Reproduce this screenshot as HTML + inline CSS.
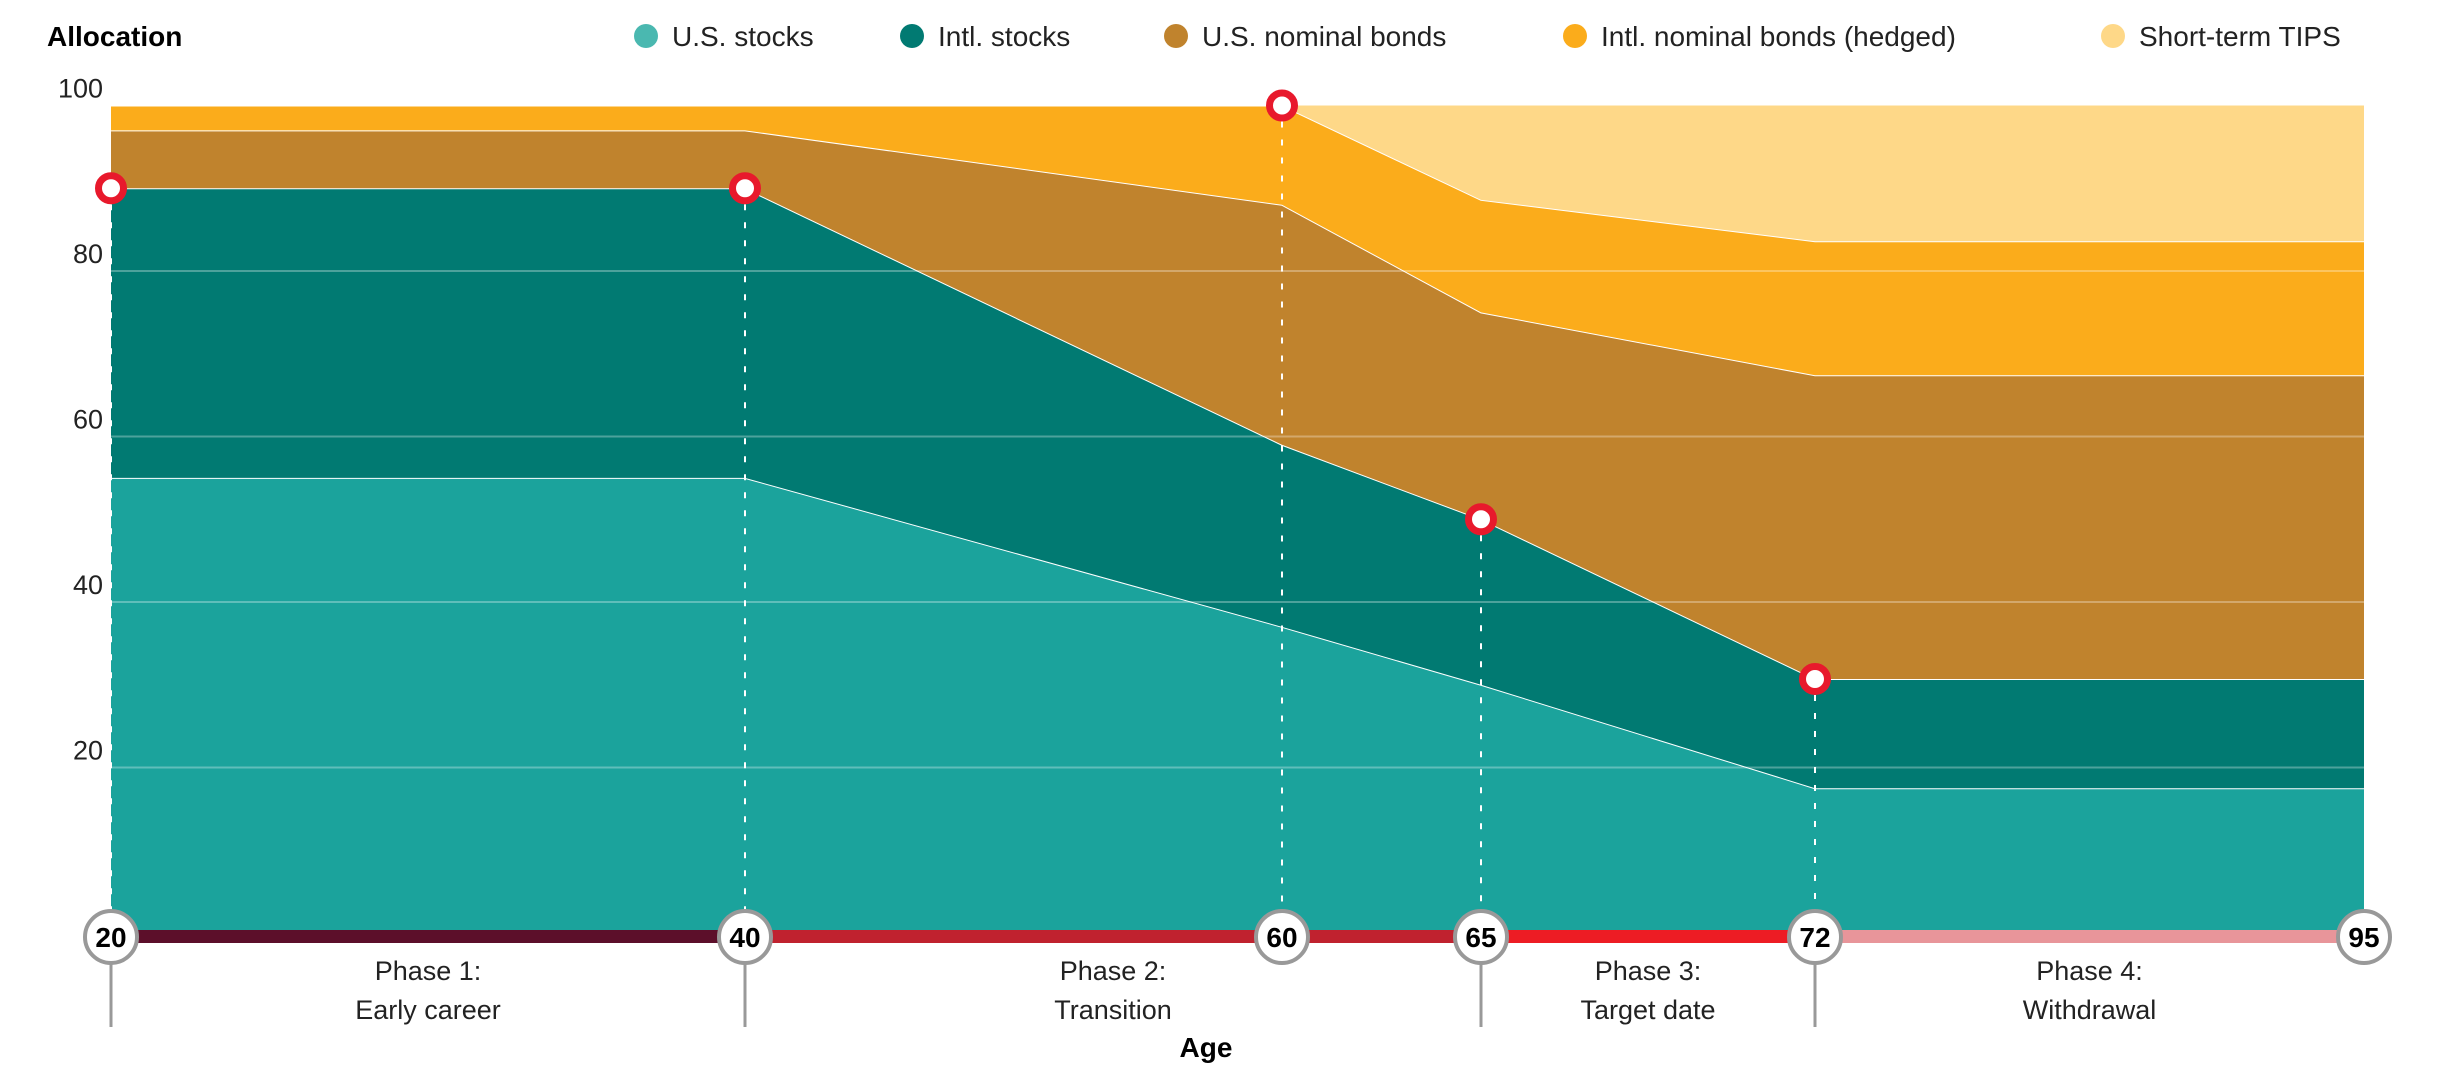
<!DOCTYPE html>
<html><head><meta charset="utf-8"><style>
html,body{margin:0;padding:0;background:#fff;}
svg{display:block;font-family:"Liberation Sans",sans-serif;}
</style></head><body>
<svg id="chart" width="2440" height="1080" viewBox="0 0 2440 1080">
<g id="legend"></g>
<g id="areas"></g>
<g id="grid"></g>
<g id="ylabels"></g>
<g id="drops"></g>
<g id="markers"></g>
<g id="phase"></g>
</svg>
<script>
const ages = [20, 40, 60, 65, 72, 95];
const usStocks   = [55, 55, 37, 30, 17.5, 17.5];
const intlStocks = [35, 35, 22, 20, 13.2, 13.2];
const usBonds    = [7, 7, 29, 25, 36.7, 36.7];
const intlBonds  = [3, 3, 12, 13.6, 16.2, 16.2];
const tips       = [0, 0, 0, 11.4, 16.4, 16.4];
const seriesNames = ["U.S. stocks","Intl. stocks","U.S. nominal bonds","Intl. nominal bonds (hedged)","Short-term TIPS"];
const yTicks = [20, 40, 60, 80, 100];
const markerAges = [20, 40, 60, 65, 72];
const markerValues = [90, 90, 100, 50, 30.7];
const tickAges = [20, 40, 65, 72];
const phaseLabels = [["Phase 1:","Early career"],["Phase 2:","Transition"],["Phase 3:","Target date"],["Phase 4:","Withdrawal"]];
const phaseBounds = [[20,40],[40,65],[65,72],[72,95]];

const colors = ["#1ba39c","#017a72","#c0832d","#fbac1b","#fed888"];
const legendColors = ["#4ab8b0","#017a72","#c0832d","#fbac1b","#fed888"];
const NS="http://www.w3.org/2000/svg";
// piecewise age axis (chart uses uneven spacing)
const axAges=[20,40,60,65,72,95], axPx=[173,745,1282,1481,1815,2364];
function x(a){ if(a<=20) return 111+(a-20)*(173-111)/0.0001*0; for(let i=0;i<axAges.length-1;i++){ if(a<=axAges[i+1]) return axPx[i]+(a-axAges[i])/(axAges[i+1]-axAges[i])*(axPx[i+1]-axPx[i]); } return 2364; }
function xa(i){ return i===0?111:x(ages[i]); }
function y(v){ return 933 - v*8.275; }
function el(tag, attrs, parent){ const e=document.createElementNS(NS,tag); for(const k in attrs) e.setAttribute(k,attrs[k]); parent.appendChild(e); return e; }
const g=id=>document.getElementById(id);

// legend
el("text",{x:47,y:46,"font-size":28,"font-weight":"bold",fill:"#000",},g("legend")).textContent="Allocation";
const legX=[646,912,1176,1575,2113];
seriesNames.forEach((n,i)=>{
  const c=el("circle",{cx:legX[i],cy:36,r:12,fill:legendColors[i]},g("legend"));
  
  
  const t=el("text",{x:legX[i]+26,y:46,"font-size":28,fill:"#222"},g("legend"));
  t.textContent=n;
  
  
});

// stacked areas
const series=[usStocks,intlStocks,usBonds,intlBonds,tips];
let base=ages.map(()=>0);
series.forEach((s,si)=>{
  const top=base.map((b,i)=>b+s[i]);
  let d="M"+ages.map((a,i)=>xa(i)+","+y(top[i])).join(" L");
  for(let i=ages.length-1;i>=0;i--) d+=" L"+xa(i)+","+y(base[i]);
  const p=el("path",{d:d+"Z",fill:colors[si]},g("areas"));
  
  
  if(si<4){
    const l=el("polyline",{points:ages.map((a,i)=>xa(i)+","+y(top[i])).join(" "),fill:"none",stroke:"#fff","stroke-width":2},g("areas"));
    
    
  }
  base=top;
});

// grid + y labels
yTicks.forEach(v=>{
  if(v<100){ const l=el("line",{x1:111,x2:2364,y1:y(v),y2:y(v),stroke:"rgba(255,255,255,0.3)","stroke-width":2},g("grid"));
      }
  const t=el("text",{x:103,y:y(v)-8,"text-anchor":"end","font-size":27,fill:"#222"},g("ylabels"));
  t.textContent=v;
  
  
});

// drop lines + markers
markerAges.forEach((a,i)=>{
  const l=el("line",{x1:x(a),x2:x(a),y1:y(markerValues[i])+16,y2:915,stroke:"#fff","stroke-width":2,"stroke-dasharray":"6 12"},g("drops"));
   
  const c=el("circle",{cx:x(a),cy:y(markerValues[i]),r:12.5,fill:"#fff",stroke:"#e8192c","stroke-width":7},g("markers"));
   
});

// phase bars
const phaseColors=["#5c0f2a","#c0222f","#ed1c24","#e8959a"];
phaseBounds.forEach((b,i)=>{
  const r=el("rect",{x:x(b[0]),y:930,width:x(b[1])-x(b[0]),height:13,fill:phaseColors[i]},g("phase"));
   
  const cx=(x(b[0])+x(b[1]))/2;
  phaseLabels[i].forEach((s,j)=>{
    const t=el("text",{x:cx,y:980+j*39,"text-anchor":"middle","font-size":27,fill:"#222"},g("phase"));
    t.textContent=s;  
  });
});
tickAges.forEach(a=>{
  const l=el("line",{x1:x(a),x2:x(a),y1:950,y2:1027,stroke:"#999","stroke-width":3},g("phase"));
   
});
ages.forEach(a=>{
  const c=el("circle",{cx:x(a),cy:937,r:26,fill:"#fff",stroke:"#999","stroke-width":4},g("phase"));
   
  const t=el("text",{x:x(a),y:947,"text-anchor":"middle","font-size":28,"font-weight":"bold",fill:"#000"},g("phase"));
  t.textContent=a;  
});
const at=el("text",{x:1206,y:1057,"text-anchor":"middle","font-size":28,"font-weight":"bold",fill:"#000"},g("phase"));
at.textContent="Age";


</script>
</body></html>
